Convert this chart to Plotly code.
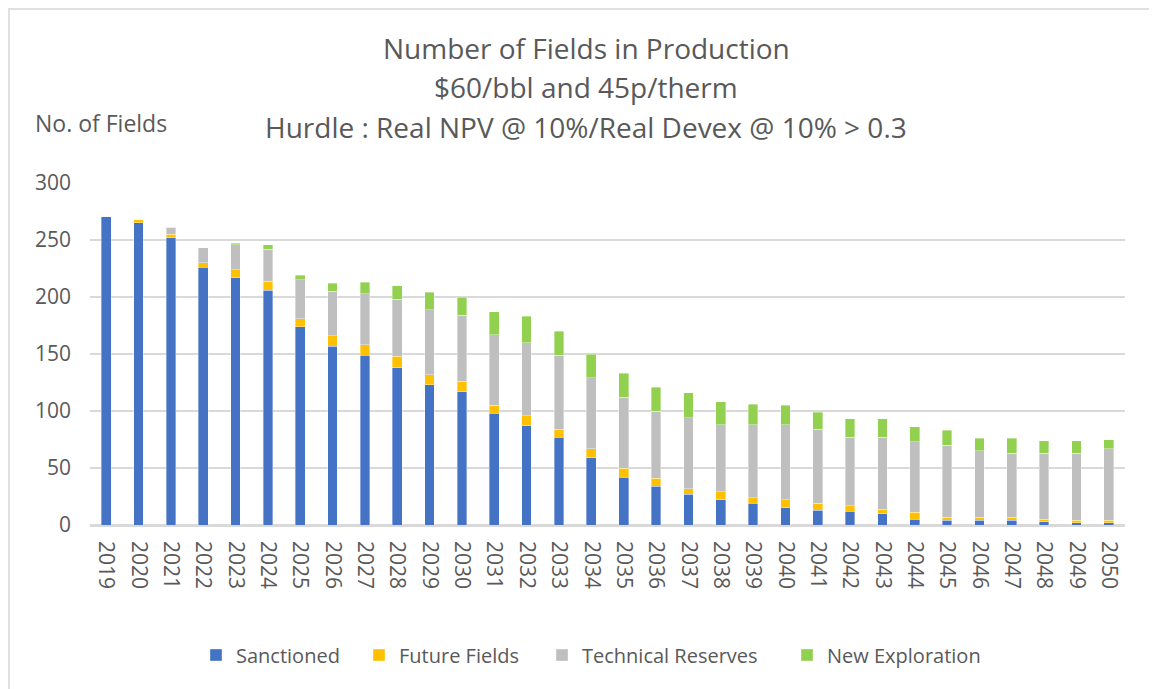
import plotly.graph_objects as go

years = [str(y) for y in range(2019, 2051)]
sanctioned = [271, 265, 252, 226, 217, 206, 174, 157, 149, 138, 123, 117, 98, 87, 77, 59,
              42, 34, 27, 22, 19, 15, 13, 12, 10, 5, 4, 4, 4, 3, 2, 2]
future_fields = [0, 3, 3, 4, 7, 8, 7, 9, 9, 10, 9, 9, 7, 9, 7, 8,
                 8, 7, 5, 7, 5, 7, 6, 5, 4, 6, 3, 3, 3, 2, 2, 2]
technical_reserves = [0, 0, 6, 13, 22, 28, 34, 39, 45, 50, 57, 58, 62, 64, 65, 62,
                      62, 59, 62, 59, 64, 66, 65, 60, 63, 62, 63, 58, 56, 58, 59, 63]
new_exploration = [0, 0, 0, 0, 1, 4, 4, 7, 10, 12, 15, 16, 20, 23, 21, 21,
                   21, 21, 22, 20, 18, 17, 15, 16, 16, 13, 13, 11, 13, 11, 11, 8]

series_names = ["Sanctioned", "Future Fields", "Technical Reserves", "New Exploration"]
series_values = [sanctioned, future_fields, technical_reserves, new_exploration]
series_colors = ["#4472C4", "#FFC000", "#BFBFBF", "#92D050"]

title_lines = ["Number of Fields in Production", "$60/bbl and 45p/therm",
               "Hurdle : Real NPV @ 10%/Real Devex @ 10% > 0.3"]

font_family = "Open Sans"
txt = "#595959"

# page has an 8px body offset; work in page pixels and convert
OFF = 8
W, H = 1157 - OFF, 689 - OFF
PL, PR, PT, PB = 90, 1125, 183, 525  # plot area in page pixels
ml, mt = PL - OFF, PT - OFF
mr, mb = W - (PR - OFF), H - (PB - OFF)
pw, ph = PR - PL, PB - PT


def px(x):
    return (x - PL) / pw


def py(y):
    return (PB - y) / ph


fig = go.Figure()
legend_ids = ["legend", "legend2", "legend3", "legend4"]
for name, vals, col, lid in zip(series_names, series_values, series_colors, legend_ids):
    fig.add_trace(go.Bar(
        x=years, y=vals, name=name, legend=lid,
        marker=dict(color=col, line=dict(color="rgba(255,255,255,0.6)", width=0.6)),
    ))

# legend square left edges (page px) in the reference
legend_x = [210, 373, 556, 801]
legend_common = dict(orientation="h", xanchor="left", yanchor="middle",
                     font=dict(size=20, color=txt), bgcolor="rgba(0,0,0,0)",
                     itemwidth=30)
LEG_OFF = 14  # symbol offset inside a legend box
legends = {}
for lid, lx in zip(legend_ids, legend_x):
    legends[lid] = dict(legend_common, x=px(lx - LEG_OFF), y=py(655))

fig.update_layout(
    barmode="stack",
    bargap=0.70,
    width=W, height=H,
    margin=dict(l=ml, r=mr, t=mt, b=mb, autoexpand=False),
    paper_bgcolor="white",
    plot_bgcolor="white",
    font=dict(family=font_family, color=txt, size=20),
    showlegend=True,
    xaxis=dict(type="category", tickangle=90, showgrid=False,
               showline=True, linecolor="#D9D9D9", linewidth=1.5,
               ticks="", ticklabelstandoff=10, tickfont=dict(size=21, color=txt)),
    yaxis=dict(range=[0, 300], dtick=50, showgrid=True, gridcolor="#D9D9D9", gridwidth=1.5,
               zeroline=True, zerolinecolor="#D9D9D9", zerolinewidth=1.5,
               showline=False, ticks="", ticklabelstandoff=18,
               tickfont=dict(size=21, color=txt)),
    **legends,
)

for line, yy in zip(title_lines, [48, 87, 127]):
    fig.add_annotation(text=line, x=px(586), y=py(yy), xref="paper", yref="paper",
                       xanchor="center", yanchor="middle", showarrow=False,
                       font=dict(size=28, color=txt))
fig.add_annotation(text="No. of Fields", x=px(33), y=py(123), xref="paper", yref="paper",
                   xanchor="left", yanchor="middle", showarrow=False,
                   font=dict(size=23, color=txt))

# chart-area border (top and left edges only, as in the reference)
fig.add_shape(type="line", xref="paper", yref="paper",
              x0=px(8), x1=px(1157), y0=py(9), y1=py(9),
              line=dict(color="#E0E0E0", width=2))
fig.add_shape(type="line", xref="paper", yref="paper",
              x0=px(9), x1=px(9), y0=py(8), y1=py(689),
              line=dict(color="#E0E0E0", width=2))

fig.write_html("out.html")
